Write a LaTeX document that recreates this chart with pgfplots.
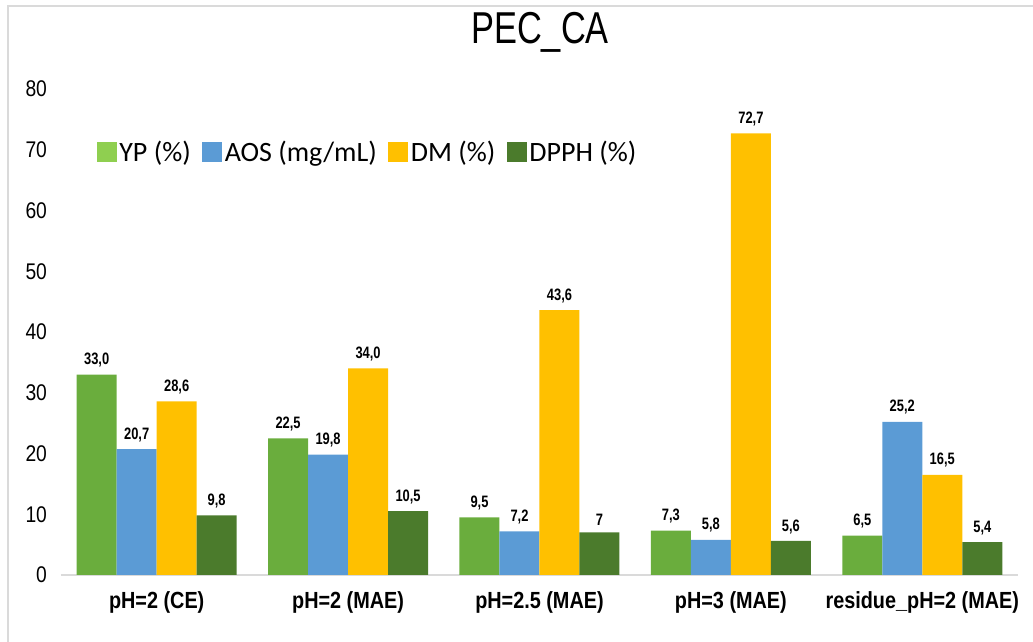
\documentclass[border=0pt]{standalone}
\usepackage{pgfplots}
\pgfplotsset{compat=1.18}
\usepackage{pgfplotstable}
\usepackage{fontspec}
\setmainfont{Liberation Sans}
\newfontfamily\titlefont[FakeStretch=0.77]{Liberation Sans}
\newfontfamily\tickfont[FakeStretch=0.85]{Liberation Sans}
\newfontfamily\catfont[FakeStretch=0.85]{Liberation Sans}
\newfontfamily\valfont[FakeStretch=0.78]{Liberation Sans}
\newfontfamily\legfont{Carlito}

\definecolor{ypgreen}{HTML}{6AAD3D}
\definecolor{yplegend}{HTML}{8FCF50}
\definecolor{aosblue}{HTML}{5B9BD5}
\definecolor{dmyellow}{HTML}{FFC000}
\definecolor{dpphgreen}{HTML}{4B7B2C}
\definecolor{framegray}{HTML}{DADADA}

% x position, value and printed label for each series
\pgfplotstableread{
x  yp   ypl  aos  aosl dm   dml  dpph dpphl
0  33.0 33,0 20.7 20,7 28.6 28,6 9.8  9,8
1  22.5 22,5 19.8 19,8 34.0 34,0 10.5 10,5
2  9.5  9,5  7.2  7,2  43.6 43,6 7    7
3  7.3  7,3  5.8  5,8  72.7 72,7 5.6  5,6
4  6.5  6,5  25.2 25,2 16.5 16,5 5.4  5,4
}\datatable

\begin{document}
\begin{tikzpicture}
\useasboundingbox (0,0) rectangle (774.75pt,481.5pt);
\draw[framegray, line width=0.8pt] (6pt,0pt) -- (6pt,477pt) -- (800pt,477pt);
\begin{axis}[
  at={(45.75pt,50.25pt)}, anchor=south west,
  scale only axis, width=717.75pt, height=364.5pt,
  xmin=-0.5, xmax=4.5, ymin=0, ymax=80,
  ybar=0pt, bar width=30pt,
  axis x line*=bottom, axis y line*=left,
  x axis line style={draw=framegray, line width=0.8pt},
  y axis line style={draw=none},
  major tick length=0pt,
  xtick={0,1,2,3,4},
  xticklabels={pH=2 (CE), pH=2 (MAE), pH=2.5 (MAE), pH=3 (MAE), residue\_pH=2 (MAE)},
  xticklabel style={font=\catfont\bfseries\fontsize{17.5}{20}\selectfont, yshift=-9pt},
  ytick={0,10,...,80},
  /pgf/number format/assume math mode=true,
  yticklabel style={font=\tickfont\fontsize{17}{19}\selectfont, xshift=-7pt},
  title={\titlefont\fontsize{33.5}{38}\selectfont PEC\_CA},
  title style={at={(0.5005,1.10)}, anchor=center},
  nodes near coords, point meta=explicit symbolic,
  every node near coord/.append style={font=\valfont\bfseries\fontsize{12.4}{14}\selectfont, text=black, yshift=2pt},
  legend columns=4,
  legend style={at={(0.037,0.870)}, anchor=west, draw=none, fill=none,
    font=\legfont\fontsize{21}{24}\selectfont, inner sep=0pt,
    /tikz/every even column/.append style={column sep=6.5pt},
    nodes={inner sep=2pt}},
  legend image code/.code={\fill[#1,draw=none] (0pt,-7.5pt) rectangle (15pt,7.5pt);},
]
\addplot[fill=ypgreen, draw=none,
  legend image code/.code={\fill[yplegend] (0pt,-7.5pt) rectangle (15pt,7.5pt);}]
  table[x=x, y=yp, meta=ypl]{\datatable};
\addplot[fill=aosblue, draw=none] table[x=x, y=aos, meta=aosl]{\datatable};
\addplot[fill=dmyellow, draw=none] table[x=x, y=dm, meta=dml]{\datatable};
\addplot[fill=dpphgreen, draw=none] table[x=x, y=dpph, meta=dpphl]{\datatable};
\legend{YP (\%), AOS (mg/mL), DM (\%), DPPH (\%)}
\end{axis}
\end{tikzpicture}
\end{document}
